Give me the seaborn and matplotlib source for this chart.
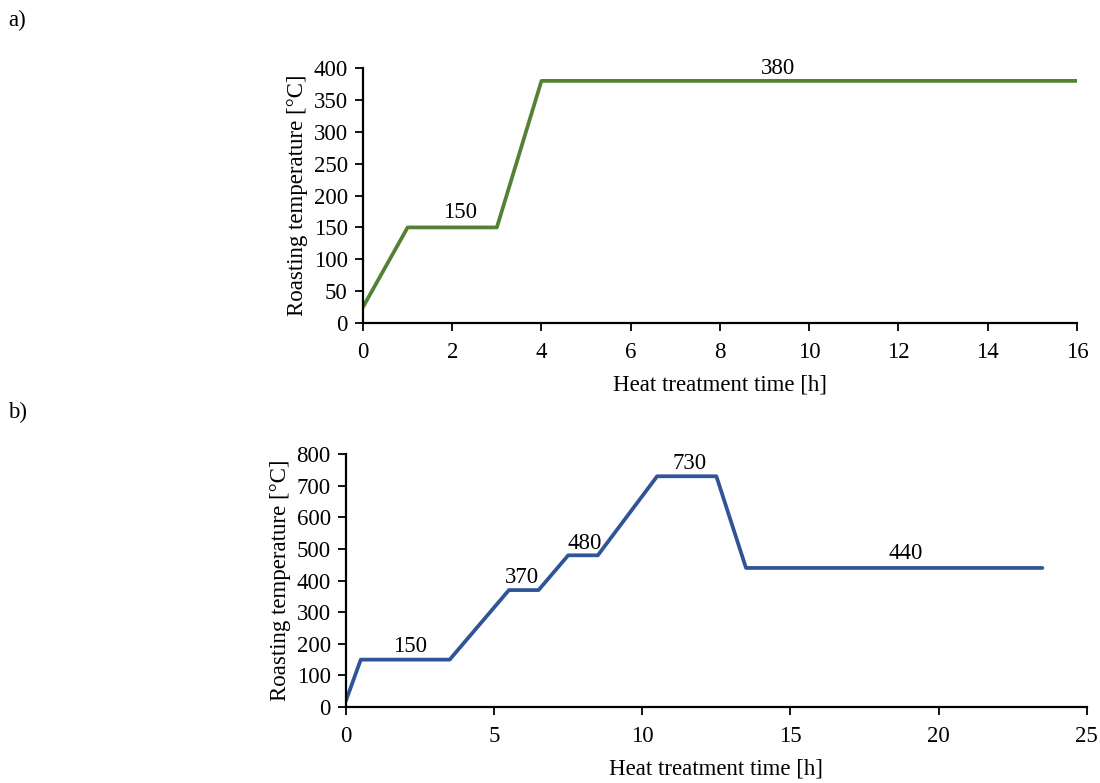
import matplotlib
matplotlib.use("Agg")
import matplotlib.pyplot as plt
import seaborn as sns
import pandas as pd

time_a = [0, 1, 3, 4, 16]
temp_a = [25, 150, 150, 380, 380]
labels_a = ["150", "380"]
label_pos_a = [(2.17, 174), (9.3, 400)]

time_b = [0, 0.5, 3.5, 5.5, 6.5, 7.5, 8.5, 10.5, 12.5, 13.5, 23.5]
temp_b = [20, 150, 150, 370, 370, 480, 480, 730, 730, 440, 440]
labels_b = ["150", "370", "480", "730", "440"]
label_pos_b = [(2.15, 190), (5.94, 411), (8.06, 516), (11.6, 769), (18.9, 487)]

sns.set_theme(style="ticks")
plt.rcParams['font.family'] = ['Liberation Serif', 'DejaVu Serif']
plt.rcParams['text.color'] = 'black'
plt.rcParams['axes.labelcolor'] = 'black'
plt.rcParams['xtick.color'] = 'black'
plt.rcParams['ytick.color'] = 'black'

FS = 16.5

fig = plt.figure(figsize=(11, 7.83), dpi=100)
ax1 = fig.add_axes([0.33, 0.5875, 0.979 - 0.33, 0.913 - 0.5875])
ax2 = fig.add_axes([0.3145, 0.097, 0.988 - 0.3145, 0.420 - 0.097])

df_a = pd.DataFrame({"t": time_a, "T": temp_a})
df_b = pd.DataFrame({"t": time_b, "T": temp_b})
sns.lineplot(data=df_a, x="t", y="T", ax=ax1, color="#548235", linewidth=2.7)
sns.lineplot(data=df_b, x="t", y="T", ax=ax2, color="#2F5597", linewidth=2.7)

ax1.set_xlim(0, 16); ax1.set_ylim(0, 400)
ax1.set_xticks(range(0, 17, 2)); ax1.set_yticks(range(0, 401, 50))
ax2.set_xlim(0, 25); ax2.set_ylim(0, 800)
ax2.set_xticks(range(0, 26, 5)); ax2.set_yticks(range(0, 801, 100))

for ax, labs, pos in [(ax1, labels_a, label_pos_a), (ax2, labels_b, label_pos_b)]:
    for s, (x, y) in zip(labs, pos):
        ax.text(x, y, s, ha="center", va="center", fontsize=FS, color="black", clip_on=False)
    ax.set_xlabel("Heat treatment time [h]", fontsize=FS, labelpad=8, color="black")
    ax.set_ylabel("Roasting temperature [°C]", fontsize=FS, labelpad=4, color="black")
    ax.tick_params(axis="x", labelsize=FS, length=6, width=1.3, color="black", labelcolor="black", direction="out", pad=8)
    ax.tick_params(axis="y", labelsize=FS, length=6, width=1.3, color="black", labelcolor="black", direction="out", pad=5)
    for sp in ["top", "right"]:
        ax.spines[sp].set_visible(False)
    for sp in ["left", "bottom"]:
        ax.spines[sp].set_color("black")
        ax.spines[sp].set_linewidth(1.6)

fig.text(8/1100, 1 - 20/783, "a)", fontsize=FS, ha="left", va="center", color="black")
fig.text(8/1100, 1 - 412/783, "b)", fontsize=FS, ha="left", va="center", color="black")

fig.savefig("out.png", dpi=100)
